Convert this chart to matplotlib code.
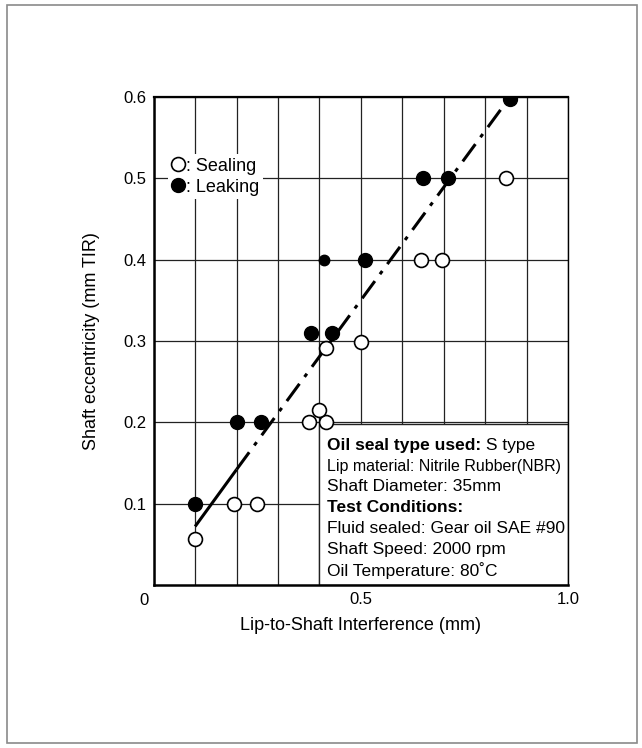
import matplotlib
matplotlib.use("Agg")
import matplotlib.pyplot as plt
from matplotlib.patches import Rectangle
from matplotlib.lines import Line2D

plt.rcParams["font.family"] = ["Liberation Sans", "DejaVu Sans"]

# leaking (filled) points
leak_x = [0.10, 0.20, 0.26, 0.38, 0.43, 0.51, 0.65, 0.71, 0.86]
leak_y = [0.10, 0.20, 0.20, 0.31, 0.31, 0.40, 0.50, 0.50, 0.597]
# the small leaking dot
leak_small_x = [0.41]
leak_small_y = [0.40]

# sealing (open) points
seal_x = [0.10, 0.195, 0.25, 0.375, 0.415, 0.40, 0.415, 0.50, 0.645, 0.695, 0.85]
seal_y = [0.056, 0.10, 0.10, 0.20, 0.20, 0.215, 0.291, 0.299, 0.40, 0.40, 0.50]

# boundary line: solid lower part, dash-dot upper part
line_solid_x = [0.10, 0.20]
line_solid_y = [0.072, 0.142]
line_dash_x = [0.20, 0.86]
line_dash_y = [0.142, 0.60]

box_lines = [
    ("Oil seal type used:", " S type"),
    ("Lip material: Nitrile Rubber(NBR)", None),
    ("Shaft Diameter: 35mm", None),
    ("Test Conditions:", ""),
    ("Fluid sealed: Gear oil SAE #90", None),
    ("Shaft Speed: 2000 rpm", None),
    ("Oil Temperature: 80\u02daC", None),
]

fig = plt.figure(figsize=(6.42, 7.48), dpi=100)
fig.patches.append(Rectangle((7 / 642, 1 - 743 / 748), 630 / 642, 738 / 748,
                             transform=fig.transFigure, fill=False,
                             edgecolor="#8a8a8a", linewidth=1.2))
ax = fig.add_axes([0.2394, 0.2179, 0.6453, 0.6524])

ax.set_xlim(0, 1.0)
ax.set_ylim(0, 0.6)
ax.set_xticks([i / 10 for i in range(11)], minor=True)
ax.set_xticks([0, 0.5, 1.0])
ax.set_xticklabels(["", "0.5", "1.0"])
ax.set_yticks([0.1, 0.2, 0.3, 0.4, 0.5, 0.6])
ax.set_yticklabels(["0.1", "0.2", "0.3", "0.4", "0.5", "0.6"])
ax.tick_params(which="both", length=0, labelsize=12, pad=5)
ax.grid(True, which="both", color="#222222", linewidth=0.9)
ax.set_axisbelow(True)
for s in ax.spines.values():
    s.set_linewidth(1.0)
ax.spines["left"].set_linewidth(1.8)
ax.spines["bottom"].set_linewidth(1.8)
ax.spines["top"].set_linewidth(1.6)
ax.text(-0.012, -0.01, "0", ha="right", va="top", fontsize=12)

# info box covering the grid in the lower right
ax.add_patch(Rectangle((0.4, 0), 0.6, 0.198, facecolor="white",
                       edgecolor="#222222", linewidth=1.0, zorder=1))

ax.plot(line_solid_x, line_solid_y, color="black", linewidth=2.2, zorder=2,
        solid_capstyle="butt")
ax.plot(line_dash_x, line_dash_y, color="black", linewidth=2.2, zorder=2,
        dashes=(7, 2.8, 1.3, 2.8))

ax.plot(seal_x, seal_y, "o", markersize=10, markerfacecolor="white",
        markeredgecolor="black", markeredgewidth=1.2, linestyle="none", zorder=3)
ax.plot(leak_x, leak_y, "o", markersize=10, color="black", linestyle="none",
        zorder=3)
ax.plot(leak_small_x, leak_small_y, "o", markersize=7.5, color="black",
        linestyle="none", zorder=3)

handles = [
    Line2D([], [], marker="o", linestyle="none", markersize=10,
           markerfacecolor="white", markeredgecolor="black", markeredgewidth=1.2),
    Line2D([], [], marker="o", linestyle="none", markersize=10, color="black"),
]
leg = ax.legend(handles, [": Sealing", ": Leaking"], loc="upper left",
                bbox_to_anchor=(0.035, 0.53, 0.2, 0.0), bbox_transform=ax.transData,
                frameon=True, fontsize=13, handlelength=0.7, handletextpad=0.1,
                borderpad=0.2, labelspacing=0.22, borderaxespad=0)
leg.get_frame().set_edgecolor("none")
leg.get_frame().set_facecolor("white")
leg.get_frame().set_alpha(1)

y0 = 0.172
dy = 0.0257
for i, (main, rest) in enumerate(box_lines):
    bold = rest is not None
    fs = 11.5 if i == 1 else 12.5
    t = ax.text(0.418, y0 - i * dy, main, fontsize=fs,
                fontweight="bold" if bold else "normal",
                ha="left", va="center", zorder=4,
                fontstretch="condensed" if i == 1 else "normal")
    if rest:
        ax.annotate(rest, xy=(1, 0.5), xycoords=t, va="center", ha="left",
                    fontsize=12.5, zorder=4)

ax.set_xlabel("Lip-to-Shaft Interference (mm)", fontsize=13, labelpad=7)
ax.set_ylabel("Shaft eccentricity (mm TIR)", fontsize=13, labelpad=17)

fig.savefig("out.png", dpi=100)
